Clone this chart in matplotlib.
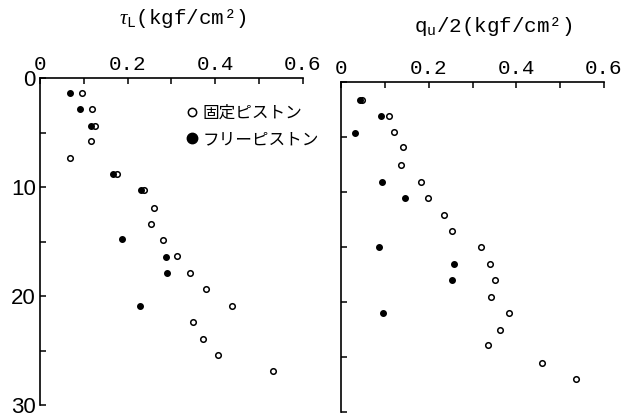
import matplotlib
matplotlib.use("Agg")
import matplotlib.pyplot as plt
from matplotlib.lines import Line2D
from matplotlib.font_manager import FontProperties


# =========================
# Data
# =========================

# left panel: tau_L vs depth
tau_fixed_depth = [1.35, 2.8, 4.4, 5.8, 7.3, 8.8, 10.3, 11.9, 13.4, 14.9,
                   16.3, 17.9, 19.4, 20.9, 22.4, 23.9, 25.4, 26.9]
tau_fixed = [0.095, 0.119, 0.125, 0.116, 0.068, 0.176, 0.237, 0.260, 0.253, 0.280,
             0.312, 0.342, 0.378, 0.437, 0.350, 0.373, 0.405, 0.532]

tau_free_depth = [1.35, 2.8, 4.4, 8.8, 10.3, 14.8, 16.4, 17.9, 20.9]
tau_free = [0.068, 0.091, 0.116, 0.167, 0.230, 0.186, 0.287, 0.289, 0.229]

# right panel: qu/2 vs depth
qu_fixed_depth = [1.6, 3.1, 4.5, 5.9, 7.5, 9.1, 10.5, 12.1, 13.5, 15.0,
                  16.5, 18.0, 19.5, 21.0, 22.5, 23.9, 25.5, 27.0]
qu_fixed = [0.048, 0.109, 0.120, 0.141, 0.138, 0.183, 0.198, 0.236, 0.254, 0.319,
            0.339, 0.352, 0.343, 0.384, 0.363, 0.336, 0.458, 0.536]

qu_free_depth = [1.6, 3.1, 4.6, 9.1, 10.5, 15.0, 16.5, 18.0, 21.0]
qu_free = [0.044, 0.091, 0.033, 0.094, 0.145, 0.086, 0.257, 0.253, 0.095]

x_major = [0, 0.2, 0.4, 0.6]
x_minor = [0.1, 0.3, 0.5]
x_labels = ["0", "0.2", "0.4", "0.6"]
y_major = [0, 10, 20, 30]
y_minor = [5, 15, 25]
y_labels = ["0", "10", "20", "30"]

legend_labels = ["固定ピストン", "フリーピストン"]


# =========================
# Style
# =========================

plt.rcParams["mathtext.fontset"] = "custom"
plt.rcParams["mathtext.rm"] = "Liberation Mono"
plt.rcParams["mathtext.it"] = "Liberation Serif:italic"

mono = FontProperties(family="Liberation Mono", size=15)
title_font = FontProperties(family="Liberation Mono", size=15)
num = FontProperties(family="Liberation Sans", size=16)
cjk = FontProperties(family=["Noto Sans CJK JP", "DejaVu Sans"], size=12)

W, H = 633, 418


def setup_axes(ax, show_ylabels):
    ax.set_xlim(0, 0.6)
    ax.set_ylim(30, 0)
    for side in ["right", "bottom"]:
        ax.spines[side].set_visible(False)
    for side in ["top", "left"]:
        ax.spines[side].set_linewidth(1.2)

    ax.xaxis.set_ticks_position("top")
    ax.set_xticks(x_major)
    ax.set_xticks(x_minor, minor=True)
    ax.set_xticklabels(x_labels, fontproperties=mono)

    ax.set_yticks(y_major)
    ax.set_yticks(y_minor, minor=True)
    if show_ylabels:
        ax.set_yticklabels(y_labels, fontproperties=num)
    else:
        ax.set_yticklabels([])

    ax.tick_params(which="both", direction="in", length=4, width=1.1,
                   top=True, bottom=False, left=True, right=False)
    ax.tick_params(axis="x", pad=3)
    ax.tick_params(axis="y", pad=3)


def plot_panel(ax, fx, fy, rx, ry):
    ax.scatter(fx, fy, s=16, facecolors="white", edgecolors="black",
               linewidths=1.1, zorder=3, clip_on=False)
    ax.scatter(rx, ry, s=16, facecolors="black", edgecolors="black",
               linewidths=1.0, zorder=4, clip_on=False)


fig = plt.figure(figsize=(W / 100, H / 100), dpi=100)

ax1 = fig.add_axes([40 / W, 1 - 405 / H, 263 / W, 327 / H])
ax2 = fig.add_axes([341 / W, 1 - 412 / H, 263 / W, 330 / H])

setup_axes(ax1, True)
setup_axes(ax2, False)

plot_panel(ax1, tau_fixed, tau_fixed_depth, tau_free, tau_free_depth)
plot_panel(ax2, qu_fixed, qu_fixed_depth, qu_free, qu_free_depth)

handles = [
    Line2D([], [], linestyle="none", marker="o", markersize=6,
           markerfacecolor="white", markeredgecolor="black", markeredgewidth=1.1),
    Line2D([], [], linestyle="none", marker="o", markersize=7.5,
           markerfacecolor="black", markeredgecolor="black"),
]
ax1.legend(handles, legend_labels, prop=cjk, frameon=False,
           loc="upper right", bbox_to_anchor=(1.06, 0.918),
           borderaxespad=0, borderpad=0,
           handlelength=0.8, handletextpad=0.25, labelspacing=0.55)

# panel titles
fig.text(183 / W, 1 - 19 / H, r"$\tau_{\mathrm{L}}$(kgf/cm²)",
         fontproperties=title_font, ha="center", va="center")
fig.text(493 / W, 1 - 27 / H, r"$\mathrm{q_u}$/2(kgf/cm²)",
         fontproperties=title_font, ha="center", va="center")

fig.savefig("out.png", dpi=100)
plt.close(fig)
